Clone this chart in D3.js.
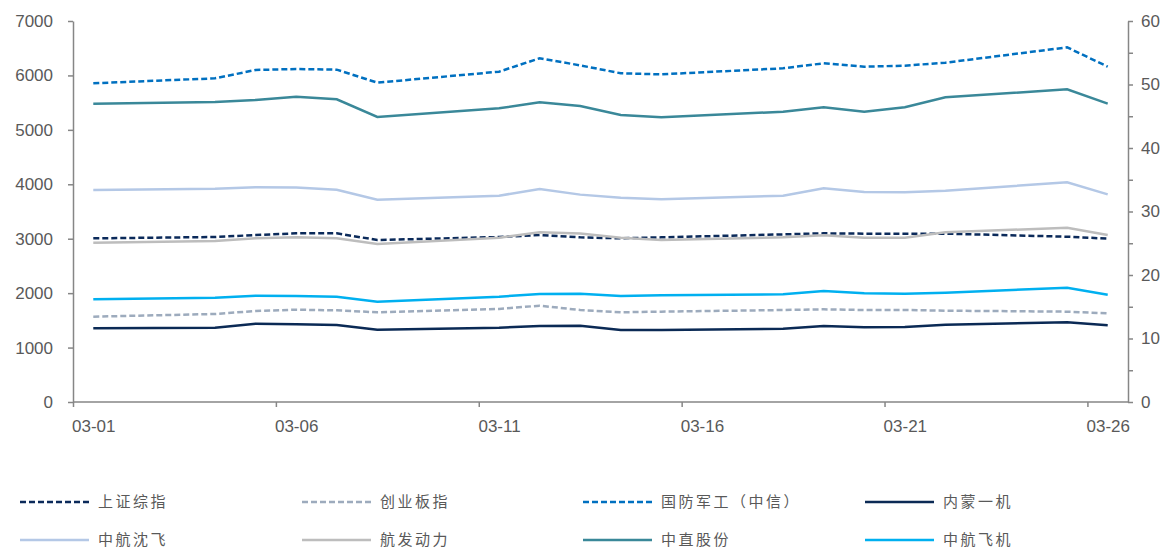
<!DOCTYPE html>
<html>
<head>
<meta charset="utf-8">
<script src="https://cdn.jsdelivr.net/npm/d3@7"></script>
<style>
  html, body { margin: 0; padding: 0; background: #fff; }
  svg { display: block; }
  .ax text { font-family: "Liberation Sans", Arial, sans-serif; font-size: 17px; fill: #595959; }
  .ax path, .ax line { stroke: #868686; stroke-width: 1.5; }
  .leg text { font-family: "Noto Sans CJK SC", sans-serif; font-size: 15px; fill: #595959; letter-spacing: 2.5px; }
</style>
</head>
<body>
<svg id="chart" width="1161" height="552"></svg>
<script>
// ---- data ----
const dates = ["2024-03-01","2024-03-04","2024-03-05","2024-03-06","2024-03-07","2024-03-08",
  "2024-03-11","2024-03-12","2024-03-13","2024-03-14","2024-03-15",
  "2024-03-18","2024-03-19","2024-03-20","2024-03-21","2024-03-22","2024-03-25","2024-03-26"];
const tickDates = ["2024-03-01","2024-03-06","2024-03-11","2024-03-16","2024-03-21","2024-03-26"];
const leftTicks = [0,1000,2000,3000,4000,5000,6000,7000];
const rightTicks = [0,5,10,15,20,25,30,35,40,45,50,55,60];

const seriesNames = ["上证综指","创业板指","国防军工（中信）","内蒙一机","中航沈飞","航发动力","中直股份","中航飞机"];
const shangzheng = [3007,3031,3068,3099,3099,2976,3031,3068,3025,3007,3025,3080,3099,3093,3093,3093,3037,3001];
const chuangye   = [1568,1617,1672,1696,1684,1648,1709,1770,1690,1648,1660,1690,1703,1690,1690,1678,1660,1629];
const guofang    = [5855,5947,6100,6118,6106,5867,6069,6315,6185,6039,6020,6131,6223,6161,6179,6234,6516,6161];
const neimeng    = [1354,1366,1439,1427,1415,1329,1366,1396,1403,1323,1323,1347,1396,1372,1378,1421,1464,1409];
const shenfei    = [3895,3920,3945,3940,3901,3717,3791,3913,3810,3754,3724,3791,3926,3858,3852,3883,4036,3815];
const hangfa     = [2927,2958,3007,3025,3007,2903,3019,3117,3095,3019,2976,3025,3062,3019,3019,3117,3203,3068];
const zhizhi     = [5481,5512,5549,5610,5561,5236,5396,5506,5438,5273,5230,5334,5414,5334,5414,5598,5745,5481];
const feiji      = [1886,1917,1953,1948,1935,1843,1935,1984,1990,1948,1960,1978,2039,1996,1990,2008,2100,1972];
const seriesValues = [shangzheng, chuangye, guofang, neimeng, shenfei, hangfa, zhizhi, feiji];

// ---- styles ----
const colors = ["#0b2a5a","#9dabbd","#0070c0","#0b2a55","#b4c8e6","#bdbdbd","#3a8899","#00b0f0"];
const dashes = ["6,3","6,3","6,3",null,null,null,null,null];

const svg = d3.select("#chart");
const L = 73, R = 1128, T = 21, B = 402;
const parse = d3.utcParse("%Y-%m-%d");
const day = 86400000;
const x = d3.scaleUtc().domain([parse("2024-03-01"), new Date(+parse("2024-03-26") + day)]).range([L, R]);
const half = (x(new Date(+parse("2024-03-01") + day)) - x(parse("2024-03-01"))) / 2;
const y = d3.scaleLinear().domain([0, 7000]).range([B, T]);
const y2 = d3.scaleLinear().domain([0, 60]).range([B, T]);

// left axis
svg.append("g").attr("class", "ax").attr("transform", `translate(${L},0)`)
  .call(d3.axisLeft(y).tickValues(leftTicks).tickSize(5).tickPadding(15).tickSizeOuter(0).tickFormat(d3.format("d")));
// right axis
svg.append("g").attr("class", "ax").attr("transform", `translate(${R},0)`)
  .call(d3.axisRight(y2).tickValues(rightTicks).tickSize(5).tickPadding(8).tickSizeOuter(0)
    .tickFormat(d => d % 10 === 0 ? d : ""));
// bottom axis
const gb = svg.append("g").attr("class", "ax").attr("transform", `translate(0,${B})`)
  .call(d3.axisBottom(x).tickValues(tickDates.map(parse)).tickSize(5).tickPadding(13).tickSizeOuter(0)
    .tickFormat(d3.utcFormat("%m-%d")));
gb.selectAll(".tick text").attr("x", half);
gb.select(".domain").attr("d", `M${L},0H${R}`);

// lines
const line = d3.line().x((d, i) => x(parse(dates[i])) + half).y(d => y(d));
seriesValues.forEach((vals, k) => {
  svg.append("path").datum(vals)
    .attr("d", line)
    .attr("fill", "none")
    .attr("stroke", colors[k])
    .attr("stroke-width", 2.5)
    .attr("stroke-dasharray", dashes[k]);
});

// legend
const legX = [20, 302, 583, 865];
const legY = [502, 540];
const leg = svg.append("g").attr("class", "leg");
seriesNames.forEach((name, k) => {
  const cx = legX[k % 4], cy = legY[Math.floor(k / 4)];
  leg.append("line").attr("x1", cx).attr("x2", cx + 69).attr("y1", cy).attr("y2", cy)
    .attr("stroke", colors[k]).attr("stroke-width", 2.5).attr("stroke-dasharray", dashes[k]);
  leg.append("text").attr("x", cx + 78).attr("y", cy).attr("dy", "0.35em").text(name);
});
</script>
</body>
</html>
